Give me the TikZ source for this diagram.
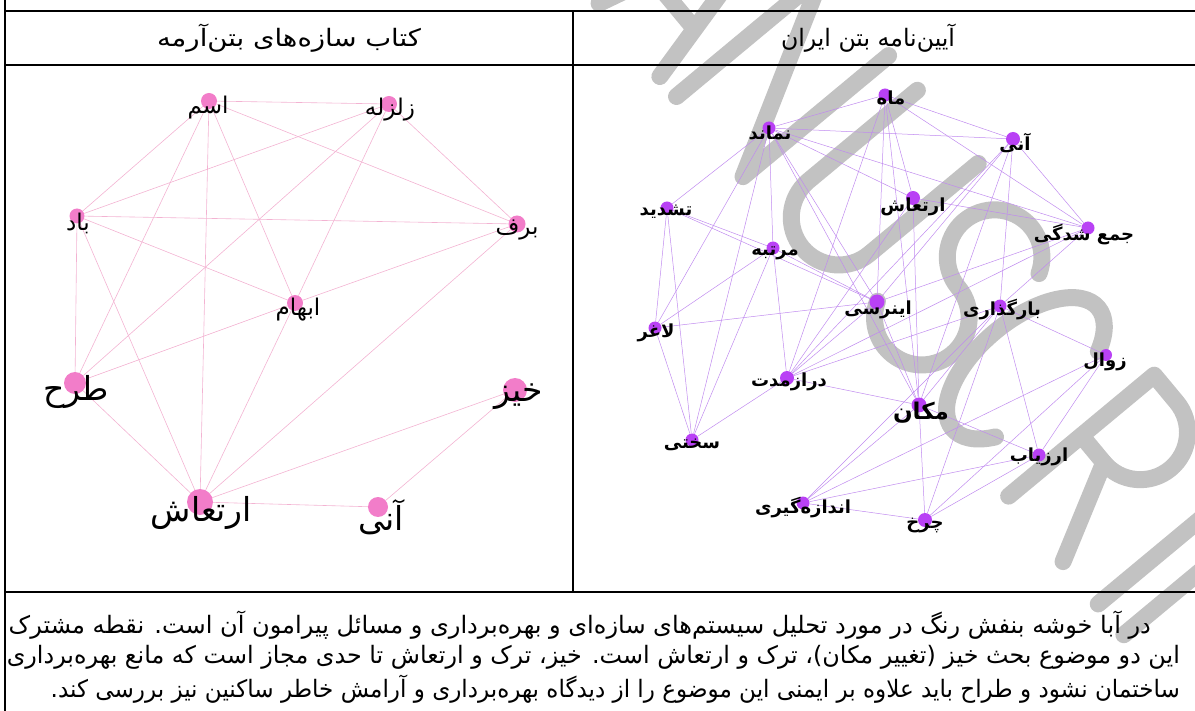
\documentclass[tikz,border=0pt]{standalone}
\usepackage{fontspec}
\newfontfamily\fa[Script=Arabic]{DejaVu Sans}
\TeXXeTstate=1
\pgfdeclarelayer{wm}
\pgfdeclarelayer{bg}
\pgfsetlayers{wm,bg,main}
\definecolor{pinkdot}{HTML}{F27DC9}
\definecolor{pinkedge}{HTML}{F3B3D2}
\definecolor{purpdot}{HTML}{B941F5}
\definecolor{purpedge}{HTML}{C08BEF}
\definecolor{wmgray}{HTML}{C2C2C2}
\begin{document}
\begin{tikzpicture}[x=1pt,y=-1pt,
  rule/.style={line width=1.6pt,black},
  ldot/.style={circle,fill=pinkdot,inner sep=0pt,minimum size=#1pt},
  rdot/.style={circle,fill=purpdot,inner sep=0pt,minimum size=#1pt},
  llab/.style={inner sep=0pt,font=\fa\fontsize{23}{26}\selectfont},
  lbig/.style={inner sep=0pt,font=\fa\fontsize{33}{38}\selectfont},
  rlab/.style={inner sep=0pt,font=\fa\bfseries\fontsize{18}{21}\selectfont},
  hlab/.style={inner sep=0pt,font=\fa\fontsize{24}{28}\selectfont},
  para/.style={inner sep=0pt,anchor=east,font=\fa\fontsize{24}{28}\selectfont},
  ledge/.style={draw=pinkedge,line width=0.6pt},
  redge/.style={draw=purpedge,line width=0.5pt},
  wmark/.style={draw=wmgray,line width=17pt,line cap=round,line join=round}]
\useasboundingbox (0,0) rectangle (1195,711);
% ---------- watermark (rotated letters) ----------
\begin{pgfonlayer}{wm}
\begin{scope}[x={(0.64pt,-0.77pt)},y={(0.77pt,0.64pt)}]
  \draw[wmark] (255,458) -- (255,647) -- (307,520) -- (360,647) -- (360,458);
  \draw[wmark] (385,458) -- (432.5,647) -- (480,458);
  \draw[wmark] (404,515) -- (461,515);
  \draw[wmark] (506,458) -- (506,647) -- (610,458) -- (610,647);
  \draw[wmark] (655,647) -- (655,505.5) arc[start angle=180,end angle=360,radius=47.5] -- (750,647);
  \draw[wmark] (873.4,623.4) arc[start angle=30,end angle=270,radius=47.25]
               arc[start angle=90,end angle=-150,radius=47.25];
  \draw[wmark] (971.1,619.3) arc[start angle=45,end angle=315,x radius=47.5,y radius=94.5];
  \draw[wmark] (1025,458) -- (1025,647) -- (1060,647) arc[start angle=90,end angle=-90,radius=47.25] -- (1025,552.5);
  \draw[wmark] (1060,552.5) -- (1110,458);
  \draw[wmark] (1165,458) -- (1165,647);
  \draw[wmark] (1205,458) -- (1205,647) -- (1240,647) arc[start angle=90,end angle=-90,radius=47.25] -- (1205,552.5);
  \draw[wmark] (1315,647) -- (1415,647);
  \draw[wmark] (1365,647) -- (1365,458);
\end{scope}
\end{pgfonlayer}
% table rules
\draw[rule] (5,0) -- (5,711);
\draw[rule] (5,11) -- (1195,11);
\draw[rule] (5,65) -- (1195,65);
\draw[rule] (5,592) -- (1195,592);
\draw[rule] (573,11) -- (573,592);
% headers
\node[hlab] (hl) at (289,38) {\resizebox{264pt}{\height}{\beginR کتاب سازه‌های بتن‌آرمه\endR}};
\node[hlab] (hr) at (868,38) {\resizebox{174pt}{\height}{\beginR آیین‌نامه بتن ایران\endR}};
% ---------- left graph ----------
\node[ldot=16] (lasm) at (209,101) {};
\node[ldot=16] (lzel) at (389,104) {};
\node[ldot=15] (lbad) at (77,216) {};
\node[ldot=17] (lbrf) at (517,224) {};
\node[ldot=16] (lebh) at (295,303) {};
\node[ldot=22] (ltrh) at (75,383) {};
\node[ldot=24] (lkhz) at (515,390) {};
\node[ldot=26] (lert) at (200,502) {};
\node[ldot=20] (lani) at (378,507) {};
\begin{pgfonlayer}{bg}
\foreach \a/\b in {lasm/lzel,lasm/lbad,lasm/ltrh,lasm/lert,lasm/lebh,lasm/lbrf,
  lzel/lbad,lzel/ltrh,lzel/lebh,lzel/lbrf,lbad/lbrf,lbad/lebh,lbad/ltrh,lbad/lert,
  lbrf/lebh,lbrf/lert,lebh/ltrh,lebh/lert,ltrh/lert,lkhz/lert,lkhz/lani,lert/lani}
  \draw[ledge] (\a) -- (\b);
\end{pgfonlayer}
\node[llab] (tasm) at (208,108) {\beginR اسم\endR};
\node[llab] (tzel) at (390,110) {\beginR زلزله\endR};
\node[llab] (tbad) at (78,223) {\beginR باد\endR};
\node[llab] (tbrf) at (517,230) {\beginR برف\endR};
\node[llab] (tebh) at (298,310) {\beginR ابهام\endR};
\node[lbig] (ttrh) at (76,392) {\beginR طرح\endR};
\node[lbig] (tkhz) at (519,397) {\beginR خیز\endR};
\node[lbig] (tert) at (201,513) {\beginR ارتعاش\endR};
\node[lbig] (tani) at (381,517) {\beginR آنی\endR};
% ---------- right graph ----------
\node[rdot=13] (rmah) at (885,95) {};
\node[rdot=13] (rnam) at (769,128) {};
\node[rdot=14] (rani) at (1013,139) {};
\node[rdot=13] (rtsh) at (667,208) {};
\node[rdot=14] (rert) at (913,198) {};
\node[rdot=13] (rjam) at (1088,228) {};
\node[rdot=13] (rmar) at (773,248) {};
\node[rdot=15] (rine) at (877,302) {};
\node[rdot=13] (rbar) at (1000,306) {};
\node[rdot=13] (rlag) at (655,328) {};
\node[rdot=12] (rzav) at (1106,355) {};
\node[rdot=14] (rder) at (787,378) {};
\node[rdot=15] (rmak) at (919,405) {};
\node[rdot=13] (rsak) at (692,440) {};
\node[rdot=13] (rarz) at (1039,455) {};
\node[rdot=13] (rand) at (803,503) {};
\node[rdot=14] (rcha) at (925,520) {};
\begin{pgfonlayer}{bg}
\foreach \a/\b in {rmah/rnam,rmah/rani,rmah/rjam,rmah/rert,rmah/rder,rmah/rmak,rmah/rine,
  rnam/rani,rnam/rtsh,rnam/rlag,rnam/rsak,rnam/rmar,rnam/rine,rnam/rert,rnam/rjam,rnam/rmak,
  rtsh/rmar,rtsh/rine,rtsh/rlag,rtsh/rsak,rmar/rlag,rmar/rsak,rmar/rder,rmar/rine,
  rlag/rine,rlag/rsak,rine/rjam,rine/rder,rine/rmak,rine/rani,
  rert/rjam,rert/rder,rert/rmak,rani/rjam,rani/rder,rani/rbar,rani/rmak,
  rjam/rbar,rjam/rder,rbar/rder,rbar/rmak,rbar/rzav,rbar/rarz,rbar/rcha,rbar/rand,
  rzav/rand,rzav/rcha,rzav/rarz,rder/rmak,rder/rsak,rmak/rarz,rmak/rand,rmak/rcha,
  rarz/rand,rarz/rcha,rand/rcha}
  \draw[redge] (\a) -- (\b);
\end{pgfonlayer}
\node[rlab] (smah) at (891,98) {\beginR ماه\endR};
\node[rlab] (snam) at (770,133) {\beginR نماند\endR};
\node[rlab] (sani) at (1015,143) {\beginR آنی\endR};
\node[rlab] (stsh) at (666,212) {\beginR تشدید\endR};
\node[rlab] (sert) at (913,207) {\beginR ارتعاش\endR};
\node[rlab] (sjam) at (1084,235) {\beginR جمع شدگی\endR};
\node[rlab] (smar) at (775,253) {\beginR مرتبه\endR};
\node[rlab] (sine) at (878,310) {\beginR اینرسی\endR};
\node[rlab] (sbar) at (1002,310) {\beginR بارگذاری\endR};
\node[rlab] (slag) at (656,333) {\beginR لاغر\endR};
\node[rlab] (szav) at (1105,362) {\beginR زوال\endR};
\node[rlab] (sder) at (789,382) {\beginR درازمدت\endR};
\node[rlab,font=\fa\bfseries\fontsize{23}{26}\selectfont] (smak) at (921,413) {\beginR مکان\endR};
\node[rlab] (ssak) at (692,445) {\beginR سختی\endR};
\node[rlab] (sarz) at (1039,457) {\beginR ارزیاب\endR};
\node[rlab] (sand) at (803,508) {\beginR اندازه‌گیری\endR};
\node[rlab] (scha) at (925,525) {\beginR چرخ\endR};
% ---------- paragraph ----------
\node[para] (p1) at (1151,625) {\resizebox{1142pt}{\height}{\beginR در آبا خوشه بنفش رنگ در مورد تحلیل سیستم‌های سازه‌ای و بهره‌برداری و مسائل پیرامون آن است. نقطه مشترک\endR}};
\node[para] (p2) at (1180,657) {\resizebox{1173pt}{\height}{\beginR این دو موضوع بحث خیز (تغییر مکان)، ترک و ارتعاش است. خیز، ترک و ارتعاش تا حدی مجاز است که مانع بهره‌برداری\endR}};
\node[para] (p3) at (1180,689) {\resizebox{1129pt}{\height}{\beginR ساختمان نشود و طراح باید علاوه بر ایمنی این موضوع را از دیدگاه بهره‌برداری و آرامش خاطر ساکنین نیز بررسی کند.\endR}};
\end{tikzpicture}
\end{document}
